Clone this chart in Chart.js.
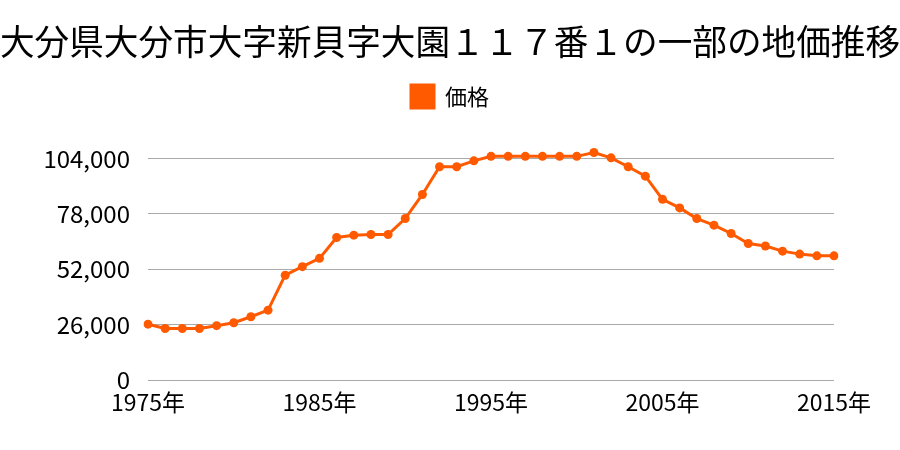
<!DOCTYPE html>
<html>
<head>
<meta charset="utf-8">
<script src="https://cdn.jsdelivr.net/npm/chart.js@4/dist/chart.umd.min.js"></script>
<style>
  body { margin: 0; background: #fff; }
  #wrap { width: 900px; height: 450px; }
</style>
</head>
<body>
<div id="wrap"><canvas id="priceChart" width="900" height="450"></canvas></div>
<script>
var chartTitle = '大分県大分市大字新貝字大園１１７番１の一部の地価推移';
var seriesName = '価格';
var years = [];
for (var y = 1975; y <= 2015; y++) years.push(y);
var prices = [
    26200, 24200, 24200, 24200, 25500, 26900, 29700, 32800, 49200, 53200,
    57100, 66900, 68000, 68300, 68300, 75800, 87100, 100100, 100100, 102900,
    105000, 105000, 105000, 105000, 105000, 105000, 106800, 104300, 100100, 95700,
    84800, 80800, 75800, 72700, 68800, 64100, 62900, 60500, 59100, 58300,
    58300
];
var yTicks = [0, 26000, 52000, 78000, 104000];

var fontFamily = '"Noto Sans CJK JP", "Noto Sans", sans-serif';

document.addEventListener('DOMContentLoaded', function () {
    var ctx = document.getElementById('priceChart').getContext('2d');
    new Chart(ctx, {
        type: 'line',
        data: {
            labels: years.map(function (y) { return y + '年'; }),
            datasets: [{
                label: seriesName,
                data: prices,
                borderColor: '#ff5a00',
                backgroundColor: '#ff5a00',
                borderWidth: 3,
                pointRadius: 4.5,
                pointHoverRadius: 4.5,
                pointBackgroundColor: '#ff5a00',
                pointBorderWidth: 0,
                tension: 0
            }]
        },
        options: {
            responsive: false,
            animation: false,
            layout: { padding: 0 },
            plugins: {
                title: {
                    display: true,
                    text: chartTitle,
                    color: '#000',
                    font: { family: fontFamily, size: 35, weight: 'normal' },
                    padding: { top: 21, bottom: 12 }
                },
                legend: {
                    labels: {
                        color: '#000',
                        font: { family: fontFamily, size: 22 },
                        boxWidth: 23,
                        boxHeight: 23,
                        padding: 10
                    }
                },
                tooltip: { enabled: false }
            },
            scales: {
                x: {
                    afterFit: function (axis) { axis.height = 70; },
                    grid: { display: false },
                    border: { display: false },
                    ticks: {
                        color: '#000',
                        font: { family: fontFamily, size: 23 },
                        autoSkip: false,
                        maxRotation: 0,
                        padding: 0,
                        callback: function (value, index) {
                            return years[index] % 10 === 5 ? this.getLabelForValue(value) : '';
                        }
                    }
                },
                y: {
                    min: 0,
                    max: 123000,
                    afterFit: function (axis) { axis.width = 148; },
                    afterBuildTicks: function (axis) {
                        axis.ticks = yTicks.map(function (v) { return { value: v }; });
                    },
                    grid: { color: '#aaaaaa', lineWidth: 1, drawTicks: false },
                    border: { display: false },
                    ticks: {
                        color: '#000',
                        font: { family: fontFamily, size: 24 },
                        padding: 18,
                        callback: function (v) { return v.toLocaleString('en-US'); }
                    }
                },
                yRight: {
                    position: 'right',
                    min: 0,
                    max: 123000,
                    afterFit: function (axis) { axis.width = 66; },
                    grid: { display: false },
                    border: { display: false },
                    ticks: { display: false }
                }
            }
        }
    });
});
</script>
</body>
</html>
